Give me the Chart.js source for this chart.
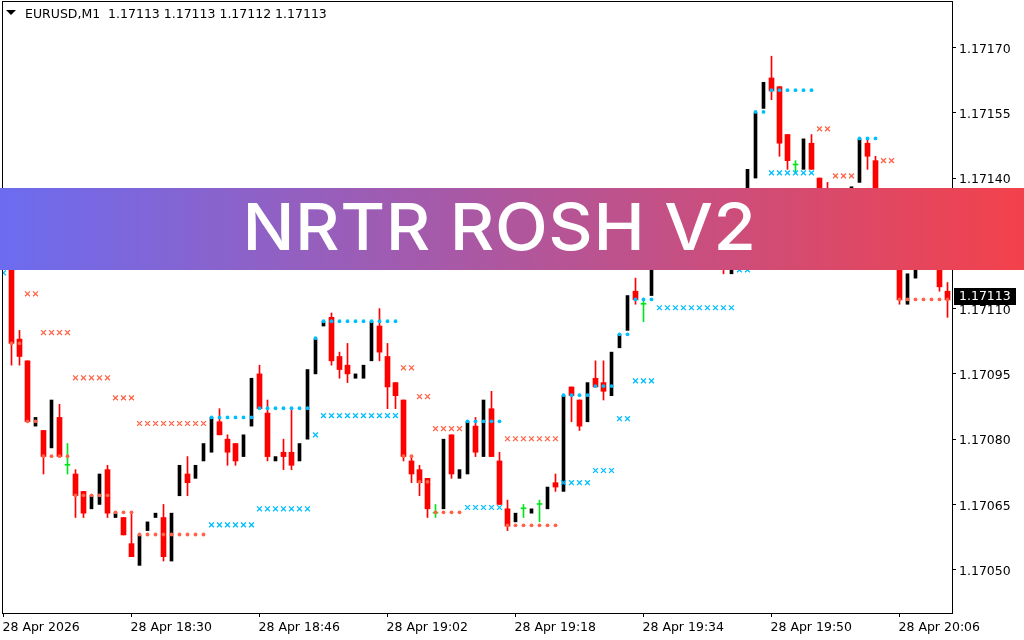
<!DOCTYPE html>
<html>
<head>
<meta charset="utf-8">
<title>NRTR ROSH V2</title>
<script src="https://cdn.jsdelivr.net/npm/chart.js@4"></script>
<style>
html,body{margin:0;padding:0;background:#fff;overflow:hidden}
#wrap{position:relative;width:1024px;height:640px}
canvas{position:absolute;left:0;top:0}
#head{position:absolute;left:25px;top:6px;font:12.5px "DejaVu Sans",sans-serif;color:#000;white-space:pre}
#tri{position:absolute;left:6px;top:10px;width:0;height:0;border-left:5px solid transparent;border-right:5px solid transparent;border-top:5px solid #000}
#banner{position:absolute;left:0;top:187.5px;width:1024px;height:82.5px;background:linear-gradient(90deg,#6c6cf0,#f3414b);display:flex;align-items:center;justify-content:center;color:#fff;font:550 65px Inter,sans-serif;letter-spacing:0.5px}
#banner span{position:relative;left:-12.5px;top:-2.5px;transform:scaleX(1.06)}
</style>
</head>
<body>
<div id="wrap">
<canvas id="c" width="1024" height="640"></canvas>
<div id="tri"></div>
<div id="head">EURUSD,M1  1.17113 1.17113 1.17112 1.17113</div>
<div id="banner"><span>NRTR ROSH V2</span></div>
</div>
<script>
const opens=[
1.17135,1.17122,1.17103,1.17098,1.17083,1.17082,1.17078,1.17085,1.17074,1.17072,
1.17068,1.17064,1.17065,1.17073,1.17062,1.17062,1.17056,1.17051,1.17059,1.17062,
1.17062,1.17052,1.17067,1.17072,1.17071,1.17075,1.17077,1.17084,1.17080,1.17079,
1.17076,1.17083,1.17095,1.17086,1.17075,1.17077,1.17077,1.17075,1.17080,1.17095,
1.17106,1.17108,1.17099,1.17097,1.17094,1.17094,1.17098,1.17106,1.17099,1.17093,
1.17089,1.17075,1.17073,1.17071,1.17063,1.17064,1.17081,1.17071,1.17072,1.17083,
1.17076,1.17087,1.17075,1.17064,1.17061,1.17064,1.17063,1.17065,1.17064,1.17070,
1.17068,1.17092,1.17089,1.17084,1.17094,1.17093,1.17090,1.17101,1.17105,1.17114,
1.17111,1.17113,1.17126,1.17133,1.17129,1.17134,1.17129,1.17125,1.17129,1.17134,
1.17127,1.17118,1.17130,1.17136,1.17140,1.17156,1.17163,1.17161,1.17150,1.17143,
1.17142,1.17148,1.17140,1.17136,1.17132,1.17134,1.17130,1.17139,1.17148,1.17144,
1.17135,1.17127,1.17124,1.17111,1.17117,1.17123,1.17127,1.17127,1.17114];
const closes=[
1.17121,1.17102,1.17099,1.17084,1.17085,1.17076,1.17089,1.17076,1.17074,1.17067,
1.17063,1.17067,1.17072,1.17063,1.17063,1.17058,1.17053,1.17058,1.17061,1.17063,
1.17053,1.17063,1.17074,1.17070,1.17074,1.17079,1.17085,1.17081,1.17077,1.17075,
1.17081,1.17094,1.17087,1.17076,1.17076,1.17076,1.17074,1.17079,1.17096,1.17103,
1.17107,1.17098,1.17096,1.17095,1.17095,1.17097,1.17107,1.17100,1.17092,1.17090,
1.17076,1.17072,1.17070,1.17064,1.17063,1.17080,1.17072,1.17073,1.17084,1.17077,
1.17089,1.17076,1.17065,1.17060,1.17063,1.17064,1.17064,1.17065,1.17069,1.17069,
1.17090,1.17090,1.17083,1.17093,1.17092,1.17091,1.17100,1.17104,1.17113,1.17112,
1.17111,1.17126,1.17131,1.17129,1.17134,1.17127,1.17125,1.17129,1.17134,1.17126,
1.17120,1.17130,1.17136,1.17142,1.17155,1.17162,1.17160,1.17148,1.17144,1.17143,
1.17149,1.17142,1.17134,1.17132,1.17135,1.17136,1.17138,1.17149,1.17145,1.17134,
1.17127,1.17121,1.17112,1.17118,1.17124,1.17129,1.17131,1.17115,1.17112];
const highs=[
1.17137,1.17124,1.17105,1.17098,1.17085,1.17082,1.17089,1.17088,1.17079,1.17073,
1.17068,1.17067,1.17072,1.17074,1.17063,1.17062,1.17063,1.17058,1.17061,1.17063,
1.17065,1.17063,1.17074,1.17076,1.17074,1.17079,1.17085,1.17087,1.17081,1.17079,
1.17081,1.17094,1.17097,1.17089,1.17076,1.17080,1.17087,1.17079,1.17096,1.17103,
1.17107,1.17109,1.17100,1.17102,1.17095,1.17097,1.17107,1.17110,1.17102,1.17093,
1.17089,1.17076,1.17074,1.17071,1.17065,1.17080,1.17081,1.17073,1.17084,1.17085,
1.17089,1.17091,1.17077,1.17066,1.17063,1.17065,1.17064,1.17066,1.17069,1.17072,
1.17090,1.17092,1.17089,1.17093,1.17098,1.17098,1.17100,1.17104,1.17113,1.17117,
1.17112,1.17126,1.17131,1.17135,1.17134,1.17136,1.17131,1.17129,1.17134,1.17136,
1.17129,1.17130,1.17136,1.17142,1.17155,1.17162,1.17168,1.17161,1.17150,1.17144,
1.17149,1.17150,1.17140,1.17139,1.17135,1.17136,1.17138,1.17149,1.17149,1.17145,
1.17137,1.17129,1.17126,1.17118,1.17124,1.17129,1.17131,1.17129,1.17116];
const lows=[
1.17120,1.17097,1.17097,1.17084,1.17083,1.17072,1.17078,1.17076,1.17072,1.17062,
1.17062,1.17064,1.17065,1.17062,1.17062,1.17058,1.17053,1.17051,1.17059,1.17062,
1.17052,1.17052,1.17067,1.17067,1.17071,1.17075,1.17077,1.17081,1.17074,1.17074,
1.17076,1.17083,1.17087,1.17075,1.17075,1.17073,1.17073,1.17075,1.17080,1.17095,
1.17106,1.17097,1.17094,1.17093,1.17094,1.17094,1.17098,1.17098,1.17087,1.17087,
1.17075,1.17070,1.17067,1.17062,1.17062,1.17064,1.17071,1.17071,1.17072,1.17076,
1.17076,1.17076,1.17065,1.17059,1.17061,1.17062,1.17063,1.17061,1.17064,1.17068,
1.17068,1.17084,1.17082,1.17084,1.17092,1.17089,1.17090,1.17101,1.17105,1.17111,
1.17107,1.17113,1.17126,1.17127,1.17129,1.17125,1.17122,1.17125,1.17129,1.17123,
1.17118,1.17118,1.17130,1.17136,1.17140,1.17156,1.17158,1.17145,1.17142,1.17141,
1.17142,1.17142,1.17132,1.17130,1.17132,1.17134,1.17130,1.17139,1.17142,1.17132,
1.17125,1.17119,1.17111,1.17111,1.17117,1.17123,1.17127,1.17114,1.17108];

// Indicator runs: [first bar, last bar, price]
const sellCrossRuns=[[3,4,1.171134],[5,8,1.171045],[9,13,1.170941],[14,16,1.170895],[17,25,1.170836],
[50,51,1.170964],[52,53,1.170898],[54,57,1.170824],[63,69,1.170801],[102,103,1.171513],[104,106,1.171405],[110,111,1.171440],[112,118,1.171327]];
const sellDotRuns=[[1,2,1.171020],[3,4,1.170841],[5,8,1.170761],[9,13,1.170671],[14,16,1.170632],[17,25,1.170581],
[50,51,1.170761],[52,53,1.170702],[54,57,1.170632],[63,69,1.170602],[102,103,1.171315],[104,106,1.171292],[110,111,1.171235],[112,118,1.171121]];
const buyDotRuns=[[26,31,1.170850],[32,38,1.170871],[39,39,1.171032],[40,49,1.171071],[58,62,1.170841],[70,73,1.170901],
[74,76,1.170922],[77,78,1.171041],[79,81,1.171121],[82,91,1.171269],[92,93,1.171361],[94,95,1.171552],[96,101,1.171602],[107,109,1.171491]];
const buyCrossRuns=[[0,0,1.171182],[26,31,1.170603],[32,38,1.170640],[39,39,1.170810],[40,49,1.170854],[58,62,1.170643],[70,73,1.170700],
[74,76,1.170728],[77,78,1.170847],[79,81,1.170934],[82,91,1.171102],[92,93,1.171189],[94,95,1.171315],[96,101,1.171412],[107,109,1.171258]];

const priceTicks=[1.17050,1.17065,1.17080,1.17095,1.17110,1.17125,1.17140,1.17155,1.17170];
const timeTickBars=[0,16,32,48,64,80,96,112];
const timeTickLabels=["28 Apr 2026","28 Apr 18:30","28 Apr 18:46","28 Apr 19:02","28 Apr 19:18","28 Apr 19:34","28 Apr 19:50","28 Apr 20:06"];
const lastPrice=1.17113;

const RED="#ff0000",BLACK="#000000",GREEN="#00e61a",BLUE="#00bfff",ORANGE="#ff6347";
const font12={family:'"DejaVu Sans",sans-serif',size:12.5};

const kind=i=>closes[i]>opens[i]?"up":closes[i]<opens[i]?"down":"flat";
const idx=opens.map((_,i)=>i);
const pick=(k,fn)=>idx.filter(i=>kind(i)===k).map(i=>({x:i,y:fn(i)}));
const bar=(data,color,thick,order,extra)=>Object.assign({type:"bar",data,backgroundColor:color,barThickness:thick,order,grouped:false},extra||{});
const runs=(list)=>list.flatMap(([a,b,p])=>{const o=[];for(let i=a;i<=b;i++)o.push({x:i,y:p});return o;});
const mark=(data,color,style,radius,bw)=>({type:"line",data,showLine:false,borderColor:color,backgroundColor:color,pointStyle:style,pointRadius:radius,pointBorderWidth:bw,pointHoverRadius:radius,order:0});
const noPad=s=>{s.paddingLeft=0;s.paddingRight=0;s.paddingTop=0;s.paddingBottom=0;};

const frame={
  id:"frame",
  beforeDraw(ch){
    const {x,y}=ch.scales;
    x.getLabelItems().forEach(t=>{t.options.translation[0]-=1;t.options.translation[1]+=2;});
    y.getLabelItems().forEach(t=>{t.options.translation[0]+=1;t.options.translation[1]+=2;});
  },
  afterDatasetsDraw(ch){
    const {ctx,chartArea:a}=ch;
    ctx.save();
    ctx.strokeStyle="#000";ctx.lineWidth=1;
    ctx.strokeRect(a.left+0.5,a.top-0.5,a.right-a.left,a.bottom-a.top+1);
    ctx.restore();
  },
  afterDraw(ch){
    const {ctx,scales:{y}}=ch;
    const py=y.getPixelForValue(lastPrice);
    ctx.save();
    ctx.fillStyle="#000";
    ctx.fillRect(954,Math.round(py)-8,62,17);
    ctx.fillStyle="#fff";
    ctx.font='12.5px "DejaVu Sans",sans-serif';
    ctx.textBaseline="middle";
    ctx.fillText(lastPrice.toFixed(5),959,Math.round(py)+1);
    ctx.restore();
  }
};

new Chart(document.getElementById("c"),{
  data:{datasets:[
    mark(runs(buyDotRuns),BLUE,"circle",1.9,0),
    mark(runs(sellDotRuns),ORANGE,"circle",1.9,0),
    mark(runs(buyCrossRuns),BLUE,"crossRot",3.4,1.3),
    mark(runs(sellCrossRuns),ORANGE,"crossRot",3.4,1.3),
    bar(pick("flat",i=>[closes[i],closes[i]]),GREEN,5,1,{minBarLength:1}),
    bar(pick("flat",i=>[lows[i],highs[i]]),GREEN,1,2),
    bar(pick("up",i=>[lows[i],highs[i]]),BLACK,3,3),
    bar(pick("down",i=>[closes[i],opens[i]]),RED,5,4),
    bar(pick("down",i=>[lows[i],highs[i]]),RED,1,5)
  ]},
  options:{
    responsive:false,animation:false,devicePixelRatio:1,
    layout:{autoPadding:false,padding:{left:2,top:2,right:0,bottom:0}},
    plugins:{legend:{display:false},title:{display:false},tooltip:{enabled:false}},
    events:[],
    scales:{
      x:{type:"linear",position:"bottom",offset:false,min:-0.1875,max:118.5625,
        afterFit(s){s.height=27;noPad(s);},
        afterBuildTicks(s){s.ticks=timeTickBars.map(v=>({value:v}));},
        grid:{drawOnChartArea:false,drawTicks:true,tickLength:4,tickColor:"#000",tickWidth:1,offset:false},
        border:{display:false},
        ticks:{autoSkip:false,maxRotation:0,minRotation:0,align:"start",padding:1,color:"#000",font:font12,
          callback(v){return timeTickLabels[timeTickBars.indexOf(v)];}}
      },
      y:{type:"linear",position:"right",min:1.1704006,max:1.1718045,
        afterFit(s){s.width=72;noPad(s);},
        afterBuildTicks(s){s.ticks=priceTicks.map(v=>({value:v}));},
        grid:{drawOnChartArea:false,drawTicks:true,tickLength:4,tickColor:"#000",tickWidth:1},
        border:{display:false},
        ticks:{padding:2,color:"#000",font:font12,callback(v){return v.toFixed(5);}}
      }
    }
  },
  plugins:[frame]
});
</script>
</body>
</html>
